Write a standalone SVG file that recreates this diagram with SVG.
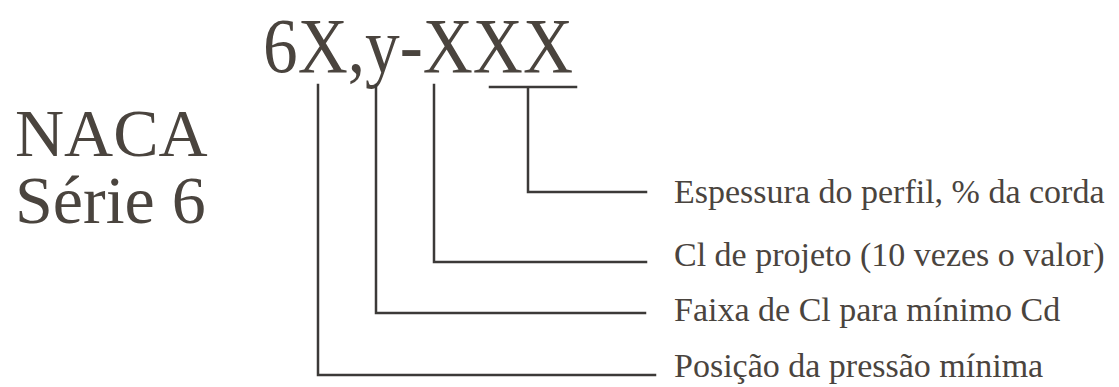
<svg xmlns="http://www.w3.org/2000/svg" width="1119" height="387" viewBox="0 0 1119 387">
  <style>
    .serif { font-family: "Liberation Serif", "Times New Roman", serif; fill: #4a443e; }
    .title { font-size: 68px; }
    .code { font-size: 78px; }
    .label { font-size: 34px; }
    .lead { fill: none; stroke: #3c3a38; stroke-width: 2.5; stroke-linecap: square; }
  </style>
  <rect width="1119" height="387" fill="#ffffff"/>

  <g id="series-title">
    <text class="serif title" x="15" y="156">NACA</text>
    <text class="serif title" x="15" y="223">Série 6</text>
  </g>

  <g id="designation">
    <text class="serif code" x="263" y="72" textLength="310" lengthAdjust="spacingAndGlyphs">6X,y-XXX</text>
  </g>

  <g id="connectors">
    <path class="lead" d="M490,87 H576 M528,87 V192 H646"/>
    <path class="lead" d="M434,85 V262 H646"/>
    <path class="lead" d="M376,85 V313 H645"/>
    <path class="lead" d="M318,85 V375 H655"/>
  </g>

  <g id="label-thickness">
    <text class="serif label" x="674" y="203">Espessura do perfil, % da corda</text>
  </g>
  <g id="label-design-cl">
    <text class="serif label" x="674" y="266">Cl de projeto (10 vezes o valor)</text>
  </g>
  <g id="label-cl-range">
    <text class="serif label" x="674" y="321">Faixa de Cl para mínimo Cd</text>
  </g>
  <g id="label-min-pressure">
    <text class="serif label" x="674" y="377">Posição da pressão mínima</text>
  </g>
</svg>
